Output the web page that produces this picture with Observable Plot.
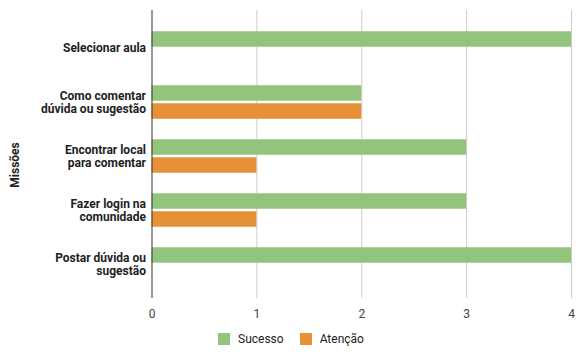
<!DOCTYPE html>
<html>
<head>
<meta charset="utf-8">
<script src="https://cdn.jsdelivr.net/npm/d3@7"></script>
<script src="https://cdn.jsdelivr.net/npm/@observablehq/plot@0.6"></script>
<style>
  html, body { margin: 0; padding: 0; background: #fff; }
  #chart { position: relative; width: 584px; height: 355px; font-family: Roboto, sans-serif; }
  #chart svg { position: absolute; left: 0; top: 0; }
  .ylabel {
    position: absolute; left: 15px; top: 165px;
    transform: translate(-50%, -50%) rotate(-90deg);
    font: bold 12px Roboto, sans-serif; color: #222; white-space: nowrap;
  }
  .legend {
    position: absolute; left: 218px; top: 332px;
    display: flex; align-items: center;
    font: 12px Roboto, sans-serif; color: #222;
  }
  .legend .item { display: flex; align-items: center; margin-right: 16px; }
  .legend .sw { width: 12px; height: 12px; margin-right: 8px; }
</style>
</head>
<body>
<div id="chart"></div>
<script>
// Missions and how many participants finished each one with success or needed attention
const missoes = [
  "Selecionar aula",
  "Como comentar\ndúvida ou sugestão",
  "Encontrar local\npara comentar",
  "Fazer login na\ncomunidade",
  "Postar dúvida ou\nsugestão"
];
const sucesso = [4, 2, 3, 3, 4];
const atencao = [0, 2, 1, 1, 0];
const series = ["Sucesso", "Atenção"];
const cores = ["#93c47d", "#e69138"];
const xTicks = [0, 1, 2, 3, 4];
const eixoY = "Missões";

const rows = missoes.map((m, i) => ({missao: m, sucesso: sucesso[i], atencao: atencao[i]}));

const W = 584, H = 325;
const bandH = (292.25 - 19.75) / missoes.length;
const barH = 16, gap = 2;
const outer = (bandH - (2 * barH + gap)) / 2;

const plot = Plot.plot({
  width: W,
  height: H,
  marginTop: 10,
  marginBottom: H - 298,
  marginLeft: 151.5,
  marginRight: 13,
  style: {fontFamily: "Roboto, sans-serif", background: "transparent"},
  x: {domain: [0, 4], ticks: xTicks},
  y: {domain: missoes, range: [19.75, 292.25], padding: 0},
  marks: [
    Plot.ruleX(xTicks.filter(d => d !== 0), {stroke: "#cccccc", strokeWidth: 1}),
    Plot.barX(rows, {x: "sucesso", y: "missao", fill: cores[0], insetTop: outer, insetBottom: bandH - outer - barH}),
    Plot.barX(rows, {x: "atencao", y: "missao", fill: cores[1], insetTop: outer + barH + gap, insetBottom: outer}),
    Plot.ruleX([0], {stroke: "#333333", strokeWidth: 1}),
    Plot.axisX({ticks: xTicks, tickFormat: d3.format("d"), tickSize: 0, tickPadding: 11, fontSize: 12, fill: "#444", label: null}),
    Plot.axisY({tickSize: 0, tickPadding: 6, fontSize: 12, fontWeight: "bold", fill: "#222", label: null, lineHeight: 1.02})
  ]
});

const chart = document.getElementById("chart");
chart.appendChild(plot);

const yl = document.createElement("div");
yl.className = "ylabel";
yl.textContent = eixoY;
chart.appendChild(yl);

const legend = document.createElement("div");
legend.className = "legend";
series.forEach((s, i) => {
  const item = document.createElement("div");
  item.className = "item";
  const sw = document.createElement("div");
  sw.className = "sw";
  sw.style.background = cores[i];
  const t = document.createElement("span");
  t.textContent = s;
  item.appendChild(sw);
  item.appendChild(t);
  legend.appendChild(item);
});
chart.appendChild(legend);
</script>
</body>
</html>
